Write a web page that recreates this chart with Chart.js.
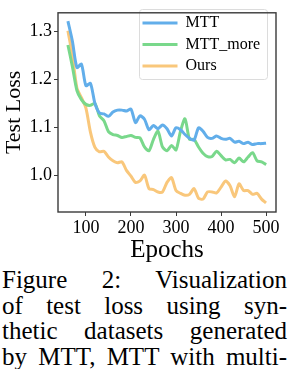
<!DOCTYPE html>
<html>
<head>
<meta charset="utf-8">
<script src="https://cdn.jsdelivr.net/npm/chart.js@4/dist/chart.umd.min.js"></script>
<style>
    html, body { margin: 0; padding: 0; background: #fff; overflow: hidden; }
    #chart-wrap { position: relative; width: 292px; height: 267px; }
    #caption {
        width: 285px;
        padding-left: 2px;
        font-family: 'Liberation Serif', 'Times New Roman', serif;
        font-size: 25px;
        line-height: 25.6px;
        color: #000;
    }
    #caption div { text-align: justify; text-align-last: justify; white-space: normal; }
</style>
</head>
<body>
<div id="chart-wrap"><canvas id="loss-chart"></canvas></div>
<div id="caption">
    <div>Figure 2: Visualization</div>
    <div>of test loss using syn-</div>
    <div>thetic datasets generated</div>
    <div>by MTT, MTT with multi-</div>
</div>
<script>
// Test loss curves
const epochs = [60, 70, 80, 90, 100, 110, 120, 130, 140, 150, 160, 170, 180, 190, 200,
    210, 220, 230, 240, 250, 260, 270, 280, 290, 300, 310, 320, 330, 340, 350,
    360, 370, 380, 390, 400, 410, 420, 430, 440, 450, 460, 470, 480, 490, 500];

const mttLoss = [1.322, 1.280, 1.225, 1.232, 1.187, 1.192, 1.150, 1.130, 1.128, 1.123,
    1.132, 1.136, 1.136, 1.134, 1.138, 1.110, 1.124, 1.117, 1.095, 1.104,
    1.097, 1.105, 1.097, 1.082, 1.099, 1.095, 1.085, 1.077, 1.073, 1.099,
    1.092, 1.079, 1.077, 1.082, 1.077, 1.075, 1.077, 1.069, 1.071, 1.066,
    1.069, 1.064, 1.066, 1.066, 1.067];

const mttMoreLoss = [1.272, 1.227, 1.177, 1.158, 1.148, 1.146, 1.150, 1.124, 1.114, 1.091,
    1.085, 1.083, 1.079, 1.081, 1.083, 1.079, 1.078, 1.059, 1.051, 1.075,
    1.092, 1.059, 1.051, 1.062, 1.053, 1.092, 1.118, 1.075, 1.075, 1.059,
    1.046, 1.039, 1.039, 1.050, 1.041, 1.032, 1.033, 1.026, 1.036, 1.028,
    1.038, 1.047, 1.030, 1.028, 1.022];

const oursLoss = [1.302, 1.250, 1.182, 1.162, 1.140, 1.090, 1.058, 1.049, 1.050, 1.038,
    1.030, 1.026, 1.028, 1.010, 0.998, 0.985, 0.988, 1.000, 0.972, 0.970,
    0.965, 0.965, 0.985, 0.995, 0.968, 0.962, 0.958, 0.960, 0.972, 0.952,
    0.950, 0.965, 0.965, 0.963, 0.975, 0.988, 0.978, 0.955, 0.982, 0.968,
    0.968, 0.960, 0.962, 0.950, 0.942];

const xTicks = [100, 200, 300, 400, 500];
const yTicks = [1.0, 1.1, 1.2, 1.3];
const yTickLabels = ['1.0', '1.1', '1.2', '1.3'];

const seriesNames = ['MTT', 'MTT_more', 'Ours'];
const seriesColors = ['#62aeea', '#79d88b', '#f9c77b'];

const serif = "'Liberation Serif', 'Times New Roman', serif";
const frameColor = '#3a3a3a';

/**
 * Turn an array of values into {x, y} points
 */
function toPoints(values) {
    return values.map((v, i) => ({ x: epochs[i], y: v }));
}

/**
 * Draws the box around the plot and the legend
 */
const framePlugin = {
    id: 'frame',
    beforeDraw(chart) {
        // move legend to top right of the plot
        const legend = chart.legend;
        legend.left = 137;
        legend.top = 9.5;
    },
    afterDraw(chart) {
        const ctx = chart.ctx;
        const area = chart.chartArea;
        const legend = chart.legend;
        ctx.save();

        // legend frame
        ctx.strokeStyle = '#dcdcdc';
        ctx.lineWidth = 1;
        ctx.beginPath();
        ctx.roundRect(legend.left + 2.5, legend.top, 128, 70, 3);
        ctx.stroke();

        // plot frame
        ctx.strokeStyle = frameColor;
        ctx.lineWidth = 1.4;
        ctx.strokeRect(area.left, area.top, area.right - area.left, area.bottom - area.top);
        ctx.restore();
    }
};

function initLossChart() {
    const ctx = document.getElementById('loss-chart').getContext('2d');

    const datasets = [mttLoss, mttMoreLoss, oursLoss].map((values, i) => ({
        label: seriesNames[i],
        data: toPoints(values),
        borderColor: seriesColors[i],
        backgroundColor: seriesColors[i],
        borderWidth: 3,
        pointRadius: 0,
        tension: 0.25,
        fill: false
    }));

    new Chart(ctx, {
        type: 'line',
        data: { datasets: datasets },
        options: {
            responsive: true,
            maintainAspectRatio: false,
            animation: false,
            layout: { padding: { left: 0, right: 16, top: 1, bottom: 0 } },
            scales: {
                x: {
                    type: 'linear',
                    min: 38,
                    max: 522,
                    afterBuildTicks: scale => { scale.ticks = xTicks.map(v => ({ value: v })); },
                    afterFit: scale => { scale.height = 55; },
                    border: { display: false },
                    grid: { drawOnChartArea: false, drawTicks: true, tickLength: 4, color: frameColor },
                    ticks: {
                        color: '#000',
                        padding: 1,
                        maxRotation: 0,
                        font: { family: serif, size: 18 },
                        callback: value => String(value)
                    },
                    title: {
                        display: true,
                        text: 'Epochs',
                        color: '#000',
                        font: { family: serif, size: 25 },
                        padding: { top: 0, bottom: 2 }
                    }
                },
                y: {
                    min: 0.9231,
                    max: 1.3394,
                    afterBuildTicks: scale => { scale.ticks = yTicks.map(v => ({ value: v })); },
                    afterFit: scale => { scale.width = 58; },
                    border: { display: false },
                    grid: { drawOnChartArea: false, drawTicks: true, tickLength: 4, color: frameColor },
                    ticks: {
                        color: '#000',
                        padding: 2,
                        font: { family: serif, size: 18 },
                        callback: (value, index) => yTickLabels[index]
                    },
                    title: {
                        display: true,
                        text: 'Test Loss',
                        color: '#000',
                        font: { family: serif, size: 22 },
                        padding: { top: 1, bottom: 0 }
                    }
                }
            },
            plugins: {
                legend: {
                    position: 'chartArea',
                    align: 'start',
                    labels: {
                        color: '#000',
                        boxWidth: 35,
                        boxHeight: 3,
                        padding: 5.5,
                        font: { family: serif, size: 16 },
                        generateLabels: chart => chart.data.datasets.map((ds, i) => ({
                            text: ds.label,
                            fillStyle: ds.borderColor,
                            strokeStyle: ds.borderColor,
                            lineWidth: 0,
                            hidden: false,
                            datasetIndex: i
                        }))
                    }
                },
                tooltip: { enabled: false }
            }
        },
        plugins: [framePlugin]
    });
}

document.addEventListener('DOMContentLoaded', function() {
    initLossChart();
});
</script>
</body>
</html>
